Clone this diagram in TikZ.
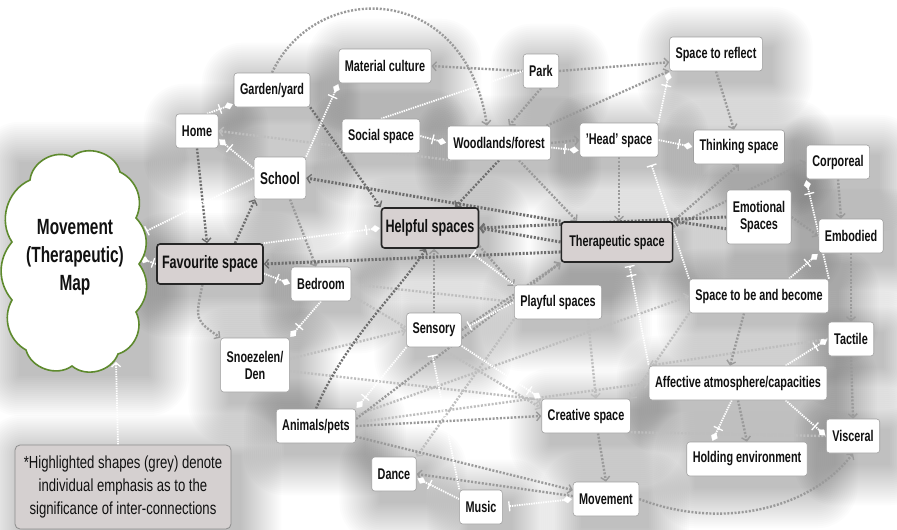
\documentclass[tikz,border=0pt]{standalone}
\usepackage{fontspec}
\setmainfont{Liberation Sans}[FakeStretch=0.7]
\newfontfamily\legfont{Liberation Sans}[FakeStretch=0.75]
\usetikzlibrary{arrows.meta}
\pgfdeclarelayer{bgl}
\pgfdeclarelayer{shl}
\pgfdeclarelayer{edl}
\pgfsetlayers{bgl,shl,edl,main}
\definecolor{dkc}{HTML}{6E6E6E}
\definecolor{mdc}{HTML}{9A9A9A}
\definecolor{ltc}{HTML}{BEBEBE}
\definecolor{boxc}{HTML}{A0A0A0}
\definecolor{hlc}{HTML}{D7D1D1}
\definecolor{cloudg}{HTML}{5E8A2E}
\definecolor{legc}{HTML}{D5D0D0}
\definecolor{txt}{HTML}{111111}
\newcommand\nodeshadow[1]{\foreach \r in {1,3,...,41}{\fill[black,opacity=0.012,rounded corners=\r pt] ([shift={(-\r+9,-\r+11)}]#1.north west) rectangle ([shift={(\r+9,\r+11)}]#1.south east);}}
\begin{document}
\begin{tikzpicture}[x=1pt,y=-1pt,
  box/.style={draw=boxc, fill=white, rounded corners=3pt, line width=0.6pt, font=\bfseries\fontsize{15.5}{16}\selectfont, text=txt, inner xsep=6pt, inner ysep=2pt, minimum height=34pt, align=center},
  hl/.style={box, fill=hlc, draw=black!85, line width=1.6pt, minimum height=40pt, inner xsep=8pt},
  edge/.style={line width=2.4pt, dash pattern=on 2pt off 1.6pt, -{Straight Barb[length=4pt,width=9pt,line width=1.4pt]}},
  dk/.style={edge, draw=dkc},
  md/.style={edge, draw=mdc},
  lt/.style={edge, draw=ltc},
  wl/.style={draw=white, line width=1.8pt, dash pattern=on 1.4pt off 1pt},
  wd/.style={wl, -{Bar[width=10pt,line width=1.3pt,sep=4pt]Diamond[length=9pt,width=7pt,fill=white,line width=0.1pt,sep=1pt]}},
  wb/.style={wl, {Bar[width=10pt,line width=1.3pt,sep=8pt]}-},
  wbb/.style={wl, {Bar[width=10pt,line width=1.3pt,sep=3pt]Bar[width=10pt,line width=1.3pt,sep=8pt]}-},
  wbd/.style={wl, {Bar[width=10pt,line width=1.3pt,sep=6pt]}-{Diamond[length=9pt,width=7pt,fill=white,line width=0.1pt,sep=1pt]}}
]
\useasboundingbox (0,0) rectangle (897,530);
\clip (0,0) rectangle (897,530);
\begin{pgfonlayer}{bgl}
\fill[white] (0,0) rectangle (897,530);
\end{pgfonlayer}

% cloud
\node[minimum width=128pt, minimum height=212pt, inner sep=0pt] (map) at (75,258) {};
\draw[draw=cloudg, line width=1.6pt, fill=white]
  (30,180) to[bend left=55] (72,157) to[bend left=60] (120,172) to[bend left=45] (136,218)
  to[bend left=40] (139,264) to[bend left=40] (136,312) to[bend left=50] (118,354)
  to[bend left=55] (72,366) to[bend left=55] (26,350) to[bend left=45] (12,300)
  to[bend left=40] (12,242) to[bend left=50] cycle;
\node[font=\bfseries\fontsize{22}{28}\selectfont, text=txt, align=center, inner sep=0pt] (maptext) at (75,257) {Movement\\(Therapeutic)\\Map};

% nodes
\node[box] (home) at (197,131) {Home};
\node[box] (garden) at (272,90) {Garden/yard};
\node[box] (matcult) at (385,66) {Material culture};
\node[box] (park) at (541,71) {Park};
\node[box] (reflect) at (716,54) {Space to reflect};
\node[box] (social) at (381,136) {Social space};
\node[box] (wood) at (499,143) {Woodlands/forest};
\node[box] (head) at (619,140) {'Head' space};
\node[box] (thinking) at (739,147) {Thinking space};
\node[box] (corporeal) at (838,162) {Corporeal};
\node[box, minimum height=42pt, font=\bfseries\fontsize{17}{18}\selectfont] (school) at (280,178) {School};
\node[hl, inner xsep=4pt, font=\bfseries\fontsize{18}{19}\selectfont] (helpful) at (430,228) {Helpful spaces};
\node[hl] (thera) at (617,242) {Therapeutic space};
\node[box, minimum height=54pt] (emot) at (759,217) {Emotional\\[1pt]Spaces};
\node[box] (embod) at (851,236) {Embodied};
\node[hl, inner xsep=5pt, font=\bfseries\fontsize{18}{19}\selectfont] (fav) at (210,264) {Favourite space};
\node[box] (bedroom) at (321,284) {Bedroom};
\node[box] (playful) at (558,302) {Playful spaces};
\node[box] (spacebe) at (759,296) {Space to be and become};
\node[box] (sensory) at (434,330) {Sensory};
\node[box] (tactile) at (851,339) {Tactile};
\node[box, minimum height=54pt] (snoez) at (255,365) {Snoezelen/\\[1pt]Den};
\node[box] (affect) at (738,383) {Affective atmosphere/capacities};
\node[box] (animals) at (316,426) {Animals/pets};
\node[box] (creative) at (586,416) {Creative space};
\node[box] (visceral) at (853,436) {Visceral};
\node[box] (holding) at (747,459) {Holding environment};
\node[box] (dance) at (394,474) {Dance};
\node[box] (music) at (481,507) {Music};
\node[box] (movement) at (606,499) {Movement};
\node[draw=black!45, fill=legc, rounded corners=5pt, line width=0.8pt, minimum width=216pt, minimum height=84pt, align=center, text=txt, font=\legfont\fontsize{17.5}{23}\selectfont] (legend) at (123,487) {*Highlighted shapes (grey) denote\\individual emphasis as to the\\significance of inter-connections};
\coordinate (mapb) at (116,362);

% shadows
\begin{pgfonlayer}{shl}
\foreach \n in {home,garden,matcult,park,reflect,social,wood,head,thinking,corporeal,school,helpful,thera,emot,embod,fav,bedroom,playful,spacebe,sensory,tactile,snoez,affect,animals,creative,visceral,holding,dance,music,movement,legend,map}{\nodeshadow{\n}}
\end{pgfonlayer}

% edges
\begin{pgfonlayer}{edl}
% light grey
\draw[lt] (wood.200) -- (home.east);
\draw[lt] (animals.5) -- (affect.west);
\draw[lt] (animals.15) -- (spacebe.west);
\draw[lt] (snoez.10) -- (sensory.west);
\draw[lt] (snoez.-10) -- (creative.160);
\draw[lt] (bedroom.east) -- (playful.west);
\draw[lt] (tactile.west) -- (affect.north west);
\draw[lt] (playful.south west) -- (dance.north east);
\draw[lt] ([xshift=30pt]playful.south) -- ([xshift=10pt]creative.north);
\draw[lt] (spacebe.south west) -- (creative.north east);
\draw[lt,-] (creative.-20) -- (visceral.west);
\draw[lt] (bedroom.-20) -- (creative.170);
% medium grey
\draw[md] (park.south) -- ([xshift=10pt]wood.north);
\draw[md] (garden.north) .. controls (315,-20) and (465,-20) .. ([xshift=-12pt]wood.north);
\draw[md] (park.west) -- (matcult.east);
\draw[md] (park.east) -- (reflect.190);
\draw[md] (wood.20) -- (reflect.200);
\draw[md] (reflect.south) -- ([xshift=-5pt]thinking.north);
\draw[md] (head.south) -- (head.south |- thera.north);
\draw[md] ([xshift=20pt]wood.south) -- ([xshift=-40pt]thera.north);
\draw[md] (wood.east) -- (head.west);
\draw[md] (thera.north east) -- (thinking.south);
\draw[md] (thera.15) -- (corporeal.west);
\draw[md] (corporeal.south) -- ([xshift=-10pt]embod.north);
\draw[md] (embod.south) -- (tactile.north);
\draw[md] (tactile.south) -- (visceral.north);
\draw[md] (emot.east) -- (embod.west);
\draw[md] ([xshift=12pt]creative.south) -- (movement.north);
\draw[md] (animals.east) -- (creative.west);
\draw[md] (animals.-15) -- (movement.165);
\draw[md] (movement.east) .. controls (720,530) and (810,510) .. (visceral.south);
\draw[md] (movement.175) -- (dance.east);
\draw[md] (animals.10) -- (thera.south west);
\draw[md] (fav.250) .. controls (195,320) .. (snoez.north west);
\draw[md] ([xshift=10pt]school.south) -- ([xshift=-5pt]bedroom.north);
\draw[md] (helpful.-20) -- (playful.160);
\draw[md] (sensory.east) -- (thera.south west);
\draw[md] (sensory.north) -- (sensory.north |- helpful.south);
\draw[md] ([xshift=-15pt]spacebe.south) -- ([xshift=-8pt]affect.north);
\draw[md] (affect.south) -- (holding.north);
% dark grey
\draw[dk] (home.south) -- ([xshift=-3pt]fav.north);
\draw[dk] (garden.south east) -- (helpful.north west);
\draw[dk] (wood.south) -- ([xshift=25pt]helpful.north);
\draw[dk] ([xshift=25pt]fav.north) -- ([xshift=-25pt]school.south);
\draw[dk] (animals.north) .. controls (345,340) and (400,290) .. ([xshift=-4pt]helpful.south);
\draw[dk, line width=3pt] (thera.north west) -- (school.east);
\draw[dk, line width=3pt] (thera.west) -- (helpful.east);
\draw[dk, line width=3pt] (thera.190) -- (fav.east);
\draw[dk, line width=3pt] (emot.west) -- (helpful.east);
\draw[dk, line width=3pt] (emot.200) -- (thera.north east);
% white
\draw[wd] (fav.west) -- (map.east);
\draw[wb] (map.20) -- (school.west);
\draw[wl, -{Straight Barb[length=4pt,width=9pt,line width=1.3pt]}] ([xshift=-5pt]legend.north) -- (mapb);
\draw[wd] (home.60) -- (garden.200);
\draw[wd] (school.160) -- (home.-20);
\draw[wd] (school.north east) -- (matcult.south west);
\draw[wl] (social.north) -- (park.west);
\draw[wd] (social.east) -- (wood.west);
\draw[wd] (wood.-5) -- (head.195);
\draw[wd] (head.east) -- (thinking.west);
\draw[wd] (head.north east) -- (reflect.south west);
\draw[wb] (head.-30) -- (spacebe.north west);
\draw[wbb] (thera.-60) -- (affect.north west);
\draw[wd] (spacebe.north east) -- (corporeal.south west);
\draw[wd] ([xshift=30pt]spacebe.north) -- (embod.south west);
\draw[wd] (affect.-20) -- (visceral.west);
\draw[wd] (affect.-110) -- ([xshift=-35pt]holding.north);
\draw[wd] (affect.20) -- (tactile.west);
\draw[wd] (sensory.-30) -- (creative.north west);
\draw[wb] (sensory.-100) -- (music.north west);
\draw[wd] (music.160) -- (dance.-10);
\draw[wbd] (music.east) -- (movement.west);
\draw[wb] (sensory.east) -- (playful.west);
\draw[wd] (sensory.south west) -- (animals.north east);
\draw[wd] (bedroom.south) -- (snoez.north east);
\draw[wd] (fav.-10) -- (bedroom.west);
\draw[wd] (fav.north east) -- (helpful.west);
\draw[wb] (helpful.-30) -- (playful.north west);
\end{pgfonlayer}
\end{tikzpicture}
\end{document}
